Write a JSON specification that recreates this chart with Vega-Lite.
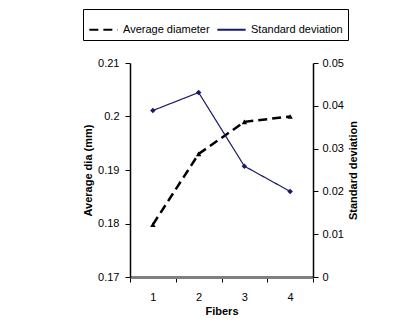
{
  "$schema": "https://vega.github.io/schema/vega-lite/v6.json",
  "width": 183,
  "height": 214,
  "autosize": {"type": "none"},
  "padding": {"left": 130, "top": 63, "right": 92, "bottom": 48},
  "background": "white",
  "config": {
    "font": "Liberation Sans",
    "view": {"stroke": null},
    "axis": {"labelFont": "Liberation Sans", "titleFont": "Liberation Sans", "labelFontSize": 11, "titleFontSize": 11, "titleFontWeight": "bold", "labelColor": "black", "titleColor": "black", "grid": false, "domainColor": "black", "tickColor": "black"}
  },
  "data": {
    "values": [
      {"fiber": "1", "avg": 0.1798, "sd": 0.0389},
      {"fiber": "2", "avg": 0.193, "sd": 0.0431},
      {"fiber": "3", "avg": 0.199, "sd": 0.0259},
      {"fiber": "4", "avg": 0.2, "sd": 0.020}
    ]
  },
  "encoding": {
    "x": {
      "field": "fiber", "type": "ordinal",
      "scale": {"paddingInner": 0, "paddingOuter": 0},
      "axis": {"title": "Fibers", "labelAngle": 0, "domainColor": "#808080", "domainWidth": 3, "tickBand": "extent", "tickSize": 5, "labelPadding": 9, "titlePadding": 3}
    }
  },
  "layer": [
    {
      "layer": [
        {
          "mark": {"type": "line", "strokeWidth": 2.5, "strokeDash": [9, 5]},
          "encoding": {
            "y": {"field": "avg", "type": "quantitative", "scale": {"domain": [0.17, 0.21], "zero": false},
              "axis": {"title": "Average dia (mm)", "values": [0.17, 0.18, 0.19, 0.2, 0.21], "format": "~g", "domainWidth": 1.5, "tickSize": 5, "labelPadding": 6, "titlePadding": 4}},
            "color": {"datum": "Average diameter", "type": "nominal",
              "scale": {"domain": ["Average diameter", "Standard deviation"], "range": ["black", "#1a1a66"]},
              "legend": {"orient": "none", "legendX": -47, "legendY": -54, "direction": "horizontal", "title": null, "strokeColor": "black", "fillColor": "white", "padding": 5, "symbolType": "stroke", "symbolSize": 800, "symbolStrokeWidth": 2, "labelFont": "Liberation Sans", "labelFontSize": 11, "labelColor": "black", "columnPadding": 3, "labelOffset": 4}},
            "strokeDash": {"datum": "Average diameter", "type": "nominal",
              "scale": {"domain": ["Average diameter", "Standard deviation"], "range": [[9, 5], [1, 0]]}, "legend": null}
          }
        },
        {
          "mark": {"type": "point", "shape": "triangle-up", "filled": true, "color": "black", "size": 30, "opacity": 1},
          "encoding": {"y": {"field": "avg", "type": "quantitative"}}
        }
      ]
    },
    {
      "layer": [
        {
          "mark": {"type": "line", "strokeWidth": 1.2},
          "encoding": {
            "y": {"field": "sd", "type": "quantitative", "scale": {"domain": [0, 0.05]},
              "axis": {"orient": "right", "title": "Standard deviation", "titleAngle": -90, "titleBaseline": "top", "values": [0, 0.01, 0.02, 0.03, 0.04, 0.05], "format": "~g", "domainWidth": 1.5, "tickSize": 5, "labelPadding": 4, "titlePadding": 4}},
            "color": {"datum": "Standard deviation", "type": "nominal"},
            "strokeDash": {"datum": "Standard deviation", "type": "nominal"}
          }
        },
        {
          "mark": {"type": "point", "shape": "diamond", "filled": true, "color": "#1a1a66", "size": 30, "opacity": 1},
          "encoding": {"y": {"field": "sd", "type": "quantitative"}}
        }
      ]
    }
  ],
  "resolve": {"scale": {"y": "independent"}}
}
